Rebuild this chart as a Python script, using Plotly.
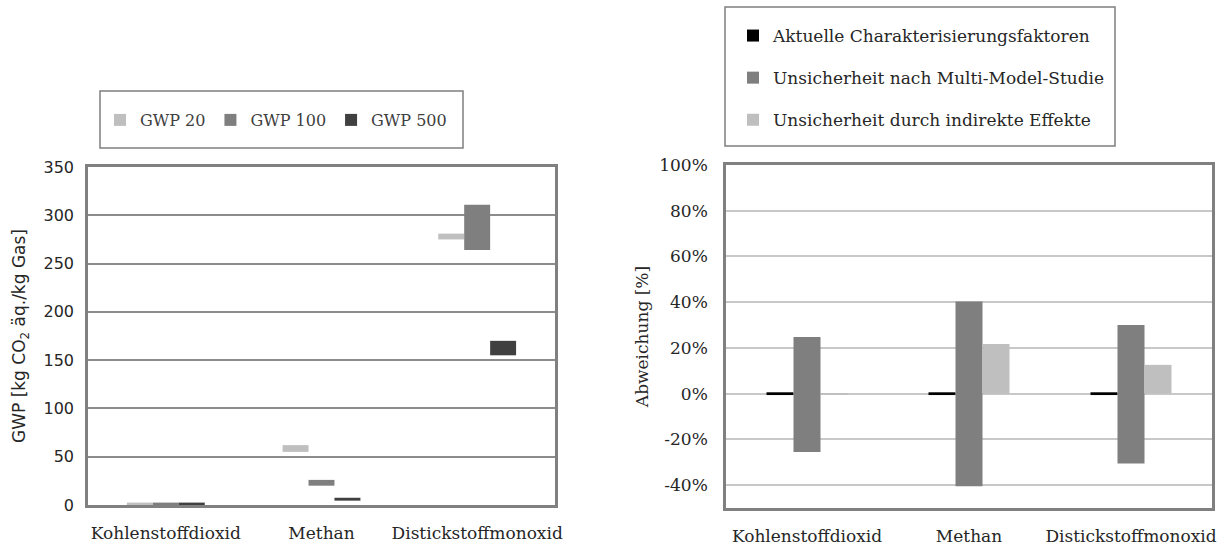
import plotly.graph_objects as go

# ---------------- data ----------------
gases = ["Kohlenstoffdioxid", "Methan", "Distickstoffmonoxid"]

# Left chart: GWP ranges (floating bars) [kg CO2 äq./kg Gas]
gwp20_low = [0.0, 55.0, 275.0]
gwp20_high = [2.5, 62.0, 281.0]
gwp100_low = [0.0, 20.0, 264.0]
gwp100_high = [2.5, 26.0, 311.0]
gwp500_low = [0.0, 4.5, 155.0]
gwp500_high = [2.5, 7.5, 170.0]

# Right chart: deviation ranges [%]
aktuell_low = [-0.6, -0.6, -0.6]
aktuell_high = [0.6, 0.6, 0.6]
multi_low = [-25.5, -40.5, -30.5]
multi_high = [24.8, 40.3, 30.0]
indirekt_low = [-0.3, 0.0, 0.0]
indirekt_high = [0.3, 21.7, 12.6]

left_names = ["GWP 20", "GWP 100", "GWP 500"]
right_names = ["Aktuelle Charakterisierungsfaktoren",
               "Unsicherheit nach Multi-Model-Studie",
               "Unsicherheit durch indirekte Effekte"]

left_y_ticks = [0, 50, 100, 150, 200, 250, 300, 350]
right_y_ticks = [-40, -20, 0, 20, 40, 60, 80, 100]
right_y_ticktext = ["%d%%" % v for v in right_y_ticks]

SERIF = "DejaVu Serif"
SANS = "DejaVu Sans"
W, H = 1226, 546


def px_x(x):
    return x / W


def px_y(y):
    return (H - y) / H


fig = go.Figure()

left_series = [(gwp20_low, gwp20_high, "#bfbfbf"),
               (gwp100_low, gwp100_high, "#7f7f7f"),
               (gwp500_low, gwp500_high, "#404040")]
for name, (lo, hi, col) in zip(left_names, left_series):
    fig.add_trace(go.Bar(
        x=gases, base=lo, y=[h - l for l, h in zip(lo, hi)],
        name=name, marker=dict(color=col, line=dict(width=0)),
        xaxis="x", yaxis="y", legend="legend",
    ))

right_series = [(aktuell_low, aktuell_high, "#000000"),
                (multi_low, multi_high, "#7f7f7f"),
                (indirekt_low, indirekt_high, "#bfbfbf")]
for i, (name, (lo, hi, col)) in enumerate(zip(right_names, right_series)):
    fig.add_trace(go.Bar(
        x=gases, base=lo, y=[h - l for l, h in zip(lo, hi)],
        name=name, marker=dict(color=col, line=dict(width=0)),
        xaxis="x2", yaxis="y2", legend="legend2", legendgroup="g%d" % i,
    ))

fig.update_layout(
    width=W, height=H,
    margin=dict(l=0, r=0, t=0, b=0, autoexpand=False),
    paper_bgcolor="white", plot_bgcolor="white",
    barmode="group", bargap=0.5, bargroupgap=0.0,
    showlegend=True,
    font=dict(family=SERIF, size=17, color="#262626"),
    xaxis=dict(
        domain=[px_x(88), px_x(555)], anchor="y", automargin=False,
        showline=True, mirror=True, linecolor="#808080", linewidth=2.5,
        showgrid=False, ticks="", ticklabelstandoff=11,
        tickfont=dict(family=SERIF, size=17, color="#262626"),
    ),
    yaxis=dict(
        domain=[px_y(505), px_y(167)], anchor="x", automargin=False,
        range=[0, 350], tickvals=left_y_ticks,
        showline=True, mirror=True, linecolor="#808080", linewidth=2.5,
        showgrid=True, gridcolor="#8c8c8c", gridwidth=1.5,
        zeroline=False, ticks="", ticklabelstandoff=8,
        tickfont=dict(family=SANS, size=16, color="#262626"),
        title=dict(text="GWP [kg CO<sub>2</sub> äq./kg Gas]",
                   font=dict(family=SANS, size=17, color="#262626"),
                   standoff=14),
    ),
    xaxis2=dict(
        domain=[px_x(726), px_x(1212)], anchor="y2", automargin=False,
        showline=True, mirror=True, linecolor="#808080", linewidth=2.5,
        showgrid=False, ticks="", ticklabelstandoff=11,
        tickfont=dict(family=SERIF, size=17, color="#262626"),
    ),
    yaxis2=dict(
        domain=[px_y(508), px_y(165)], anchor="x2", automargin=False,
        range=[-50, 100], tickmode="array",
        tickvals=right_y_ticks, ticktext=right_y_ticktext,
        showline=True, mirror=True, linecolor="#808080", linewidth=2.5,
        showgrid=True, gridcolor="#c8c8c8", gridwidth=1.5,
        zeroline=False, ticks="", ticklabelstandoff=12,
        tickfont=dict(family=SERIF, size=17, color="#262626"),
        title=dict(text="Abweichung [%]",
                   font=dict(family=SERIF, size=17, color="#262626"),
                   standoff=7),
    ),
    legend=dict(
        orientation="h", x=px_x(100), xanchor="left",
        y=px_y(120), yanchor="middle",
        bgcolor="rgba(0,0,0,0)", borderwidth=0,
        font=dict(family=SERIF, size=16, color="#404040"),
        itemwidth=30, traceorder="normal",
    ),
    legend2=dict(
        orientation="v", x=px_x(733), xanchor="left",
        y=px_y(18), yanchor="top",
        bgcolor="rgba(0,0,0,0)", borderwidth=0,
        font=dict(family=SERIF, size=17, color="#262626"),
        itemwidth=30, tracegroupgap=17, traceorder="grouped",
    ),
    shapes=[
        dict(type="rect", xref="paper", yref="paper",
             x0=px_x(100), x1=px_x(463), y0=px_y(148), y1=px_y(91),
             line=dict(color="#7f7f7f", width=1.5), fillcolor="rgba(0,0,0,0)"),
        dict(type="rect", xref="paper", yref="paper",
             x0=px_x(725), x1=px_x(1115), y0=px_y(146), y1=px_y(7),
             line=dict(color="#7f7f7f", width=1.5), fillcolor="rgba(0,0,0,0)"),
    ],
)

fig.write_html(
    "out.html",
    config={"displayModeBar": False},
    post_script="document.body.style.margin='0';document.body.style.overflow='hidden';",
)
